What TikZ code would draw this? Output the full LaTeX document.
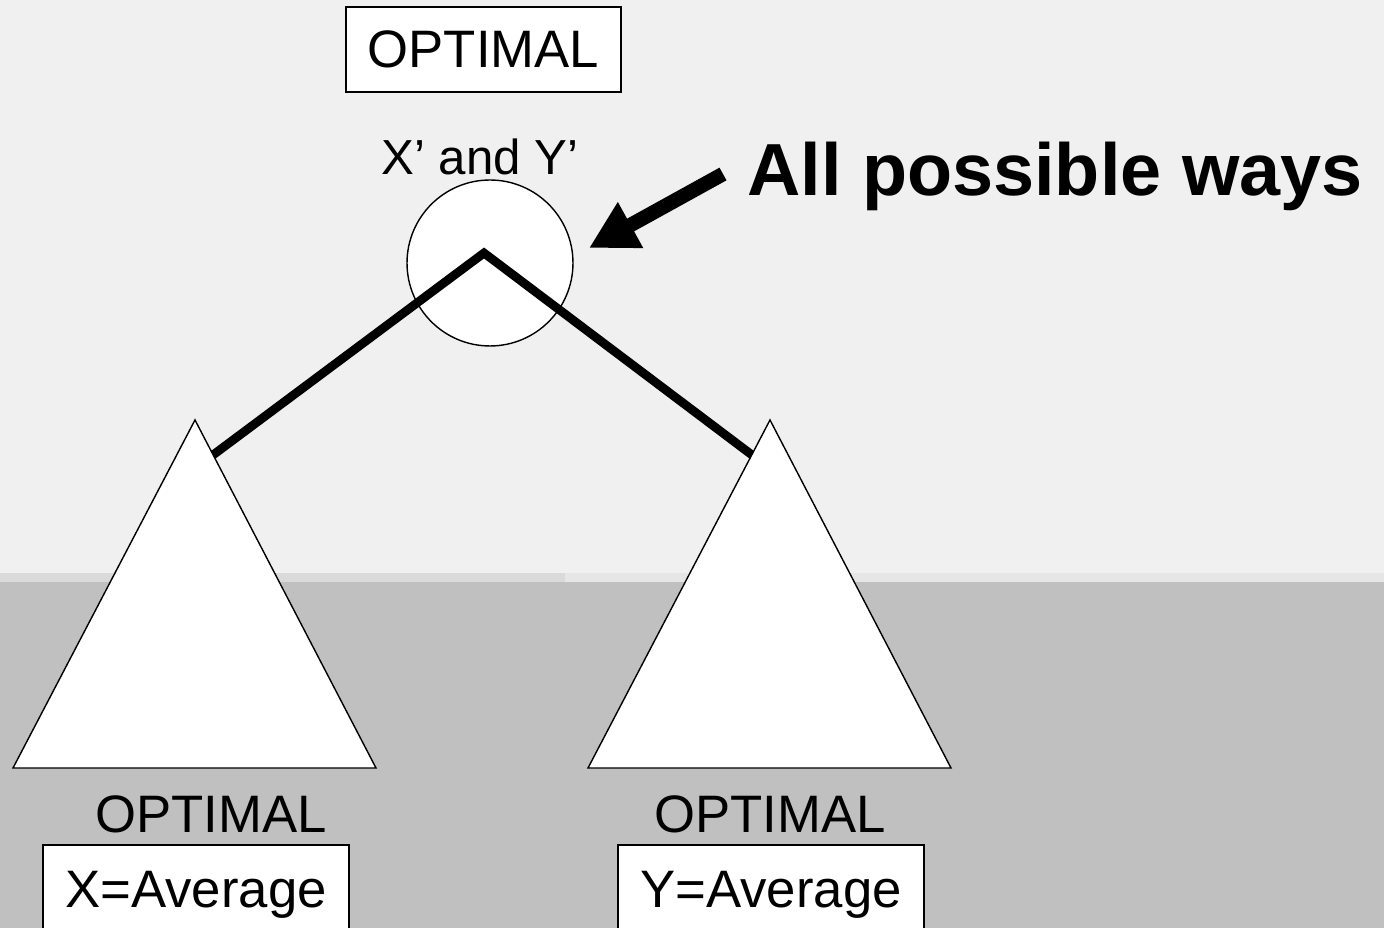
\documentclass[tikz,border=0pt]{standalone}
\usepackage{fontspec}
\setmainfont{Liberation Sans}
\usetikzlibrary{arrows.meta,positioning}
\definecolor{paper}{HTML}{F0F0F0}
\definecolor{floor}{HTML}{C0C0C0}
\definecolor{seamdark}{HTML}{DADADA}
\definecolor{seamlight}{HTML}{E6E6E6}

\begin{document}
\begin{tikzpicture}[
  x=0.02cm,y=-0.02cm,
  label/.style={font=\fontsize{30}{36}\selectfont,inner sep=0pt},
  valbox/.style={draw,line width=1.1pt,fill=white,font=\fontsize{30}{36}\selectfont,
                 minimum width=5.5cm,minimum height=1.7cm,inner sep=0pt},
  joint/.style={draw,circle,line width=0.8pt,fill=white,minimum size=3.32cm,inner sep=0pt},
  subtree/.style={draw,line width=0.8pt,fill=white,line join=miter},
  branch/.style={line width=5pt},
  pointer/.style={-{Triangle[length=0.95cm,width=0.98cm]},line width=0.29cm}
]
\clip (0,0) rectangle (1384,928);
% background
\fill[paper] (0,0) rectangle (1384,928);
\fill[floor] (0,582) rectangle (1384,928);
\fill[seamdark] (0,573) rectangle (565,582);
\fill[seamlight] (565,573) rectangle (1384,582);

\node[valbox] (top) at (483.5,49.5) {OPTIMAL};
\node[label,font=\fontsize{28}{34}\selectfont,anchor=base] (pair) at (480,175) {X’ and Y’};
\node[joint] (root) at (490,263) {};

\coordinate (fork) at (484,253);
\coordinate (lend) at (213,455);
\coordinate (rend) at (752,455);
\draw[branch] (lend) -- (fork) -- (rend);

% subtrees
\draw[subtree] (195,420) -- (13,768) -- (376,768) -- cycle;
\draw[subtree] (770,420) -- (588,768) -- (951,768) -- cycle;

\node[label,anchor=base] (lopt) at (211,833) {OPTIMAL};
\node[label,anchor=base] (ropt) at (770,833) {OPTIMAL};
\node[valbox,minimum width=6.12cm,minimum height=2cm] (xavg) at (196,895) {X=Average};
\node[valbox,minimum width=6.12cm,minimum height=2cm] (yavg) at (771,895) {Y=Average};

\node[label,font=\bfseries\fontsize{42}{50}\selectfont,anchor=base] (ways) at (1055,196) {All possible ways};
\coordinate (tail) at (723,174);
\coordinate (aim) at (589,248);
\draw[pointer] (tail) -- (aim);
\end{tikzpicture}
\end{document}
